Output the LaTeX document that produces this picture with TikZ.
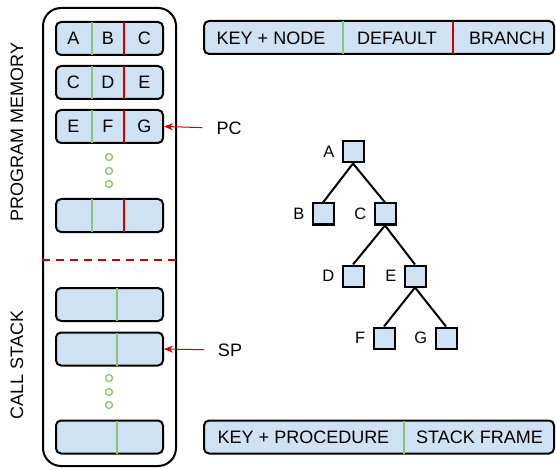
\documentclass[tikz,border=0pt]{standalone}
\usepackage{fontspec}
\setmainfont{Liberation Sans}
\usepackage{xcolor}
\usetikzlibrary{arrows.meta, positioning, calc}
\definecolor{cellblue}{HTML}{CFE2F3}
\definecolor{divgreen}{HTML}{8CC273}
\definecolor{divred}{HTML}{CC0000}

\begin{document}
\begin{tikzpicture}[x=1pt, y=-1pt,
                row/.style={draw, line width=2pt, rounded corners=5pt, fill=cellblue, minimum width=107pt, minimum height=33pt, inner sep=0pt},
                legendbox/.style={row, minimum width=350pt},
                leaf/.style={draw, line width=2pt, fill=cellblue, minimum size=21pt, inner sep=0pt},
                txt/.style={font=\fontsize{18}{21}\selectfont, inner sep=0pt},
                tlabel/.style={font=\fontsize{16.5}{19}\selectfont, inner sep=1pt},
                greendiv/.style={divgreen, line width=2pt, shorten <=1pt, shorten >=1pt},
                reddiv/.style={divred, line width=2pt, shorten <=1pt, shorten >=1pt},
                stackdot/.style={circle, draw=divgreen, line width=1.3pt, fill=white, minimum size=7pt, inner sep=0pt},
                ptr/.style={-{Stealth[length=9pt, width=7pt, inset=3pt]}, divred, line width=1pt},
                branch/.style={line width=2pt}
            ]
                \useasboundingbox (0,0) rectangle (556,470);

                % Outer memory box
                \node[draw, line width=2pt, rounded corners=18pt, minimum width=133pt, minimum height=458pt] (mem) at (109.5, 237) {};
                \coordinate (cut) at (109.5, 260);
                \draw[divred, line width=2.5pt, dash pattern=on 8pt off 6pt] (mem.west |- cut) -- (mem.east |- cut);

                % Side labels
                \node[txt, rotate=90] (pmlabel) at (17, 132) {PROGRAM MEMORY};
                \node[txt, rotate=90] (cslabel) at (17, 365) {CALL STACK};

                % Program memory rows
                \node[row] (m1) at (109.5, 38.5) {};
                \node[row] (m2) at (109.5, 82.5) {};
                \node[row] (m3) at (109.5, 126.5) {};
                \node[row] (m4) at (109.5, 215.5) {};
                \foreach \r in {m1, m2, m3, m4} {
                    \draw[greendiv] ($(\r.north west)!0.336!(\r.north east)$) -- ($(\r.south west)!0.336!(\r.south east)$);
                    \draw[reddiv] ($(\r.north west)!0.636!(\r.north east)$) -- ($(\r.south west)!0.636!(\r.south east)$);
                }
                \foreach \r/\a/\b/\c in {m1/A/B/C, m2/C/D/E, m3/E/F/G} {
                    \node[txt] (\r-a) at ($(\r.west)!0.168!(\r.east)$) {\a};
                    \node[txt] (\r-b) at ($(\r.west)!0.486!(\r.east)$) {\b};
                    \node[txt] (\r-c) at ($(\r.west)!0.82!(\r.east)$) {\c};
                }
                \node[stackdot] (pd1) at (109, 157) {};
                \node[stackdot] (pd2) at (109, 171) {};
                \node[stackdot] (pd3) at (109, 184) {};

                % Call stack rows
                \node[row] (s1) at (109.5, 304.5) {};
                \node[row] (s2) at (109.5, 349) {};
                \node[row] (s3) at (109.5, 437) {};
                \foreach \r in {s1, s2, s3} {
                    \draw[greendiv] ($(\r.north west)!0.57!(\r.north east)$) -- ($(\r.south west)!0.57!(\r.south east)$);
                }
                \node[stackdot] (sd1) at (109, 378) {};
                \node[stackdot] (sd2) at (109, 392) {};
                \node[stackdot] (sd3) at (109, 405) {};

                % Pointers
                \node[txt] (pc) at (229, 128) {PC};
                \node[txt] (sp) at (230, 350) {SP};
                \draw[ptr, shorten <=14pt] (pc.west) -- (m3.east);
                \draw[ptr, shorten <=14pt] (sp.west) -- (s2.east);

                % Legends
                \node[legendbox] (lnode) at (379, 37.5) {};
                \draw[greendiv] ($(lnode.north west)!0.397!(lnode.north east)$) -- ($(lnode.south west)!0.397!(lnode.south east)$);
                \draw[reddiv] ($(lnode.north west)!0.711!(lnode.north east)$) -- ($(lnode.south west)!0.711!(lnode.south east)$);
                \node[txt] (lkey) at (271, 38) {KEY + NODE};
                \node[txt] (ldef) at (397, 38) {DEFAULT};
                \node[txt] (lbr) at (507, 38) {BRANCH};

                \node[legendbox] (lproc) at (379, 437) {};
                \draw[greendiv] ($(lproc.north west)!0.571!(lproc.north east)$) -- ($(lproc.south west)!0.571!(lproc.south east)$);
                \node[txt] (lkp) at (303.5, 437.5) {KEY + PROCEDURE};
                \node[txt] (lfr) at (479.5, 437.5) {STACK FRAME};

                % Tree
                \node[leaf] (a) at (353, 152) {};
                \node[leaf] (b) at (323, 214) {};
                \node[leaf] (c) at (385, 214) {};
                \node[leaf] (d) at (353, 276) {};
                \node[leaf] (e) at (415, 276) {};
                \node[leaf] (f) at (384, 338) {};
                \node[leaf] (g) at (446, 338) {};
                \foreach \n/\t in {a/A, b/B, c/C, d/D, e/E, f/F, g/G} {
                    \node[tlabel, left=6pt of \n] (\n-lab) {\t};
                }
                \draw[branch] (a.south) -- (b.north);
                \draw[branch] (a.south) -- (c.north);
                \draw[branch] (c.south) -- (d.north);
                \draw[branch] (c.south) -- (e.north);
                \draw[branch] (e.south) -- (f.north);
                \draw[branch] (e.south) -- (g.north);
            \end{tikzpicture}
\end{document}
